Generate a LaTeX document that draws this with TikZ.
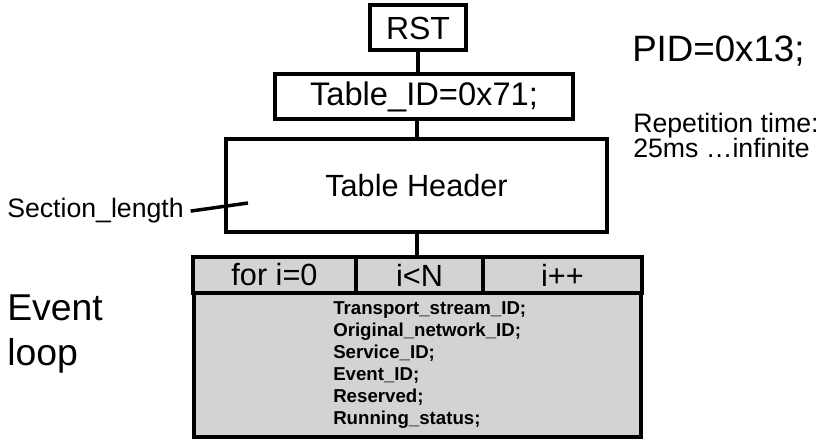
\documentclass[tikz,border=0pt]{standalone}
\usepackage{fontspec}
\setmainfont{Liberation Sans}
\usetikzlibrary{positioning}

\definecolor{loopgray}{RGB}{211,211,211}

\begin{document}
\begin{tikzpicture}[
    x=0.75pt, y=-0.75pt,
    box/.style={draw=black, line width=3pt, fill=white, inner sep=0pt},
    cell/.style={draw=black, line width=2.6pt, fill=loopgray, inner sep=0pt, minimum height=27pt,
                 font=\fontsize{23}{27}\selectfont},
    link/.style={draw=black, line width=3pt},
    label/.style={inner sep=0pt, align=left}
]
    \useasboundingbox (0,0) rectangle (822,442);

    % table chain
    \node[box, minimum width=72pt, minimum height=33.75pt, font=\fontsize{24}{29}\selectfont] (rst) at (418,28) {RST};
    \node[box, minimum width=223.5pt, minimum height=33.75pt, font=\fontsize{24.5}{29}\selectfont] (tid) at (424,96.5) {Table\_ID=0x71;};
    \node[box, minimum width=285.75pt, minimum height=69.75pt, font=\fontsize{23}{27}\selectfont] (hdr) at (416.5,185.5) {Table Header};

    \draw[link] (rst.south) -- (rst.south |- tid.north);
    \draw[link] (hdr.north |- tid.south) -- (hdr.north);

    % event loop
    \node[box, fill=loopgray, line width=2.6pt, minimum width=335.25pt, minimum height=134.25pt] (loop) at (417.5,347.5) {};
    \node[cell, minimum width=122.25pt] (init) at (274.5,275) {for i=0};
    \node[cell, minimum width=95.25pt] (cond) at (419.5,275) {i<N};
    \node[cell, minimum width=119.25pt] (incr) at (562.5,275) {i++};
    \node[label, anchor=north west, font=\bfseries\fontsize{14}{16.5}\selectfont] (fields) at (333,301)
        {Transport\_stream\_ID;\\Original\_network\_ID;\\Service\_ID;\\Event\_ID;\\Reserved;\\Running\_status;};

    \draw[link] (hdr.south) -- (hdr.south |- loop.north);

    % side notes
    \node[label, anchor=base west, font=\fontsize{20}{24}\selectfont] (seclen) at (7,218) {Section\_length};
    \coordinate (lenmark) at (248,203);
    \draw[line width=2.6pt] ([xshift=5pt]seclen.east) -- (lenmark);

    \node[label, anchor=north west, font=\fontsize{28}{33.75}\selectfont] (evloop) at (7,295) {Event\\loop};

    \node[label, anchor=base west, font=\fontsize{27.5}{32}\selectfont] (pid) at (632,62) {PID=0x13;};
    \node[label, anchor=north west, font=\fontsize{20}{19}\selectfont] (rep) at (633,113) {Repetition time:\\25ms …infinite};
\end{tikzpicture}
\end{document}
